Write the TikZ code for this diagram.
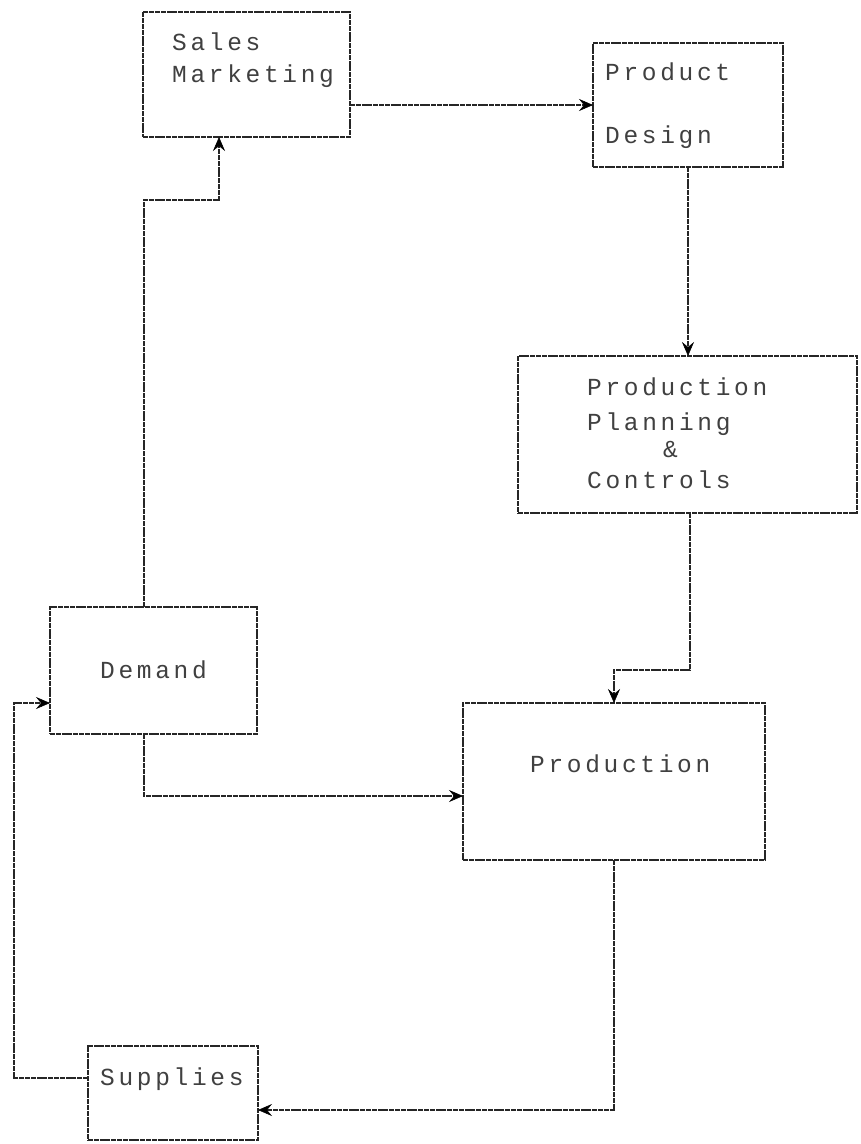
\documentclass[tikz,border=0pt]{standalone}
\usepackage{fontspec}
\setmonofont[LetterSpace=15]{Liberation Mono}
\usetikzlibrary{arrows.meta}
\begin{document}
\begin{tikzpicture}[x=1pt,y=-1pt,
  box/.style={draw=black!85, line width=1.3pt, dash pattern=on 5pt off 0.8pt, rectangle, inner sep=0pt, outer sep=0pt},
  lbl/.style={anchor=base west, inner sep=0pt, text=black!75, font=\ttfamily\fontsize{24.5}{28}\selectfont},
  arr/.style={draw=black!85, line width=1.3pt, dash pattern=on 5pt off 0.8pt, -{Stealth[length=14pt,width=12pt,inset=5pt,black,line width=0.5pt]}},
  ln/.style={draw=black!85, line width=1.3pt, dash pattern=on 5pt off 0.8pt}]
\useasboundingbox (0,0) rectangle (861,1144);
\fill[white] (0,0) rectangle (861,1144);
% boxes
\node[box, minimum width=207pt, minimum height=125pt] (sales) at (246.5,74.5) {};
\node[box, minimum width=190pt, minimum height=124pt] (pd) at (688,105) {};
\node[box, minimum width=339pt, minimum height=157pt] (ppc) at (687.5,434.5) {};
\node[box, minimum width=207pt, minimum height=127pt] (demand) at (153.5,670.5) {};
\node[box, minimum width=302pt, minimum height=157pt] (prod) at (614,781.5) {};
\node[box, minimum width=170pt, minimum height=94pt] (sup) at (173,1093) {};
% texts
\node[lbl] (t1) at (172,50) {Sales};
\node[lbl] (t2) at (172,82) {Marketing};
\node[lbl] (t3) at (605,80) {Product};
\node[lbl] (t4) at (605,143) {Design};
\node[lbl] (t5) at (587,395) {Production};
\node[lbl] (t6) at (587,430) {Planning};
\node[lbl] (t7) at (663,457) {\&};
\node[lbl] (t8) at (587,488) {Controls};
\node[lbl] (t9) at (100,678) {Demand};
\node[lbl] (t10) at (530,772) {Production};
\node[lbl] (t11) at (100,1085) {Supplies};
% connectors
\draw[arr] (sales.east |- pd.west) -- (pd.west);
\draw[arr] (pd.south) -- (pd.south |- ppc.north);
\draw[arr] ([xshift=2.5pt]ppc.south) -- ++(0,157) -| (prod.north);
\draw[arr] ([xshift=-9.5pt]demand.north) -- ++(0,-407) -| ([xshift=-27.5pt]sales.south);
\draw[arr] ([xshift=-9.5pt]demand.south) |- ([yshift=-14.5pt]prod.west);
\draw[arr] (prod.south) |- ([yshift=-17pt]sup.east);
\draw[arr] ([yshift=15pt]sup.west) -- ++(-74,0) |- ([yshift=-32.5pt]demand.west);
\end{tikzpicture}
\end{document}
